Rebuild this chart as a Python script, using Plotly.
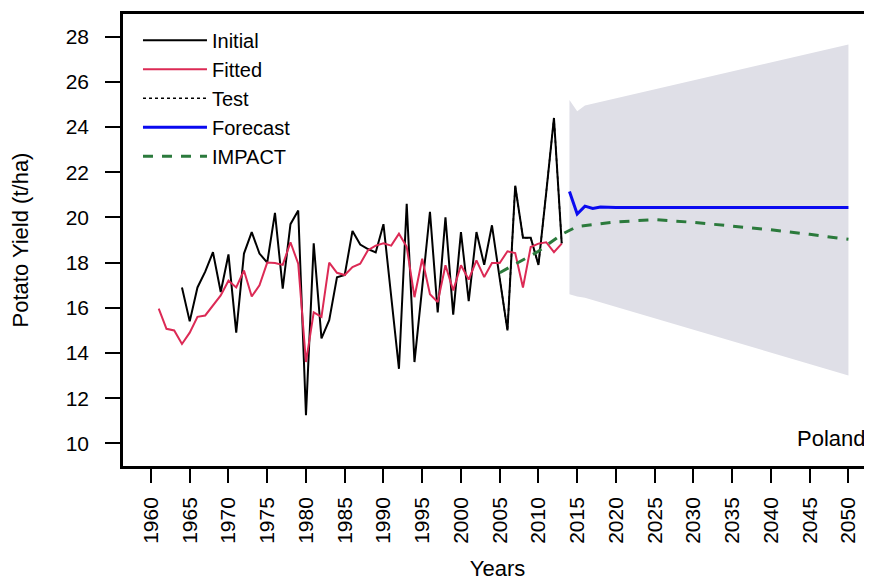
import plotly.graph_objects as go

# ---------------- data ----------------
initial_years = list(range(1964, 2014))
initial_vals = [16.9, 15.4, 16.9, 17.6, 18.46, 16.7, 18.36, 14.9, 18.4, 19.35,
                18.4, 18.0, 20.2, 16.85, 19.7, 20.3, 11.25, 18.85, 14.65, 15.45,
                17.35, 17.45, 19.4, 18.8, 18.6, 18.45, 19.7, 16.5, 13.3, 20.6,
                13.6, 16.9, 20.25, 15.8, 20.0, 15.7, 19.35, 16.3, 19.35, 17.9,
                19.65, 17.3, 15.0, 21.4, 19.1, 19.1, 17.9, 21.1, 24.4, 18.85]

fitted_years = list(range(1961, 2014))
fitted_vals = [15.96, 15.07, 15.0, 14.4, 14.9, 15.6, 15.66, 16.1, 16.55, 17.2,
               16.9, 17.65, 16.5, 17.0, 18.0, 17.98, 17.9, 18.9, 17.95, 13.6,
               15.8, 15.6, 18.0, 17.55, 17.45, 17.8, 17.95, 18.55, 18.75, 18.85,
               18.75, 19.28, 18.7, 16.47, 18.17, 16.6, 16.25, 17.88, 16.77, 17.88,
               17.25, 18.1, 17.36, 17.98, 17.98, 18.5, 18.42, 16.9, 18.69, 18.84,
               18.9, 18.46, 18.84]

test_years = list(range(2005, 2014))
test_vals = [17.3, 15.0, 21.4, 19.1, 19.1, 17.9, 21.1, 24.4, 18.85]

forecast_years = list(range(2014, 2051))
forecast_vals = [21.15, 20.15, 20.5, 20.4, 20.46, 20.44, 20.44, 20.44, 20.44, 20.44,
                 20.44, 20.44, 20.44, 20.44, 20.44, 20.44, 20.44, 20.44, 20.44, 20.44,
                 20.44, 20.44, 20.44, 20.44, 20.44, 20.44, 20.44, 20.44, 20.44, 20.44,
                 20.44, 20.44, 20.44, 20.44, 20.44, 20.44, 20.44]

band_years = [2014, 2015, 2016, 2050]
band_upper = [25.2, 24.7, 24.95, 27.65]
band_lower = [16.6, 16.5, 16.45, 13.0]

impact_years = [2005, 2010, 2013, 2015, 2020, 2025, 2030, 2035, 2040, 2045, 2050]
impact_vals = [17.55, 18.5, 19.25, 19.6, 19.8, 19.9, 19.78, 19.62, 19.45, 19.25, 19.03]

x_ticks = list(range(1960, 2051, 5))
y_ticks = list(range(10, 29, 2))

FONT = "Liberation Sans, Arial, sans-serif"

fig = go.Figure()

# confidence band
fig.add_trace(go.Scatter(
    x=band_years + band_years[::-1],
    y=band_upper + band_lower[::-1],
    fill="toself", fillcolor="rgb(223,223,231)",
    line=dict(width=0), mode="lines", showlegend=False, hoverinfo="skip"))

fig.add_trace(go.Scatter(x=test_years, y=test_vals, mode="lines", name="Test",
                         line=dict(color="black", width=1.5, dash="3px,3px"),
                         legendrank=3))
fig.add_trace(go.Scatter(x=initial_years, y=initial_vals, mode="lines", name="Initial",
                         line=dict(color="black", width=2), legendrank=1))
fig.add_trace(go.Scatter(x=fitted_years, y=fitted_vals, mode="lines", name="Fitted",
                         line=dict(color="#dc2a55", width=2), legendrank=2))
fig.add_trace(go.Scatter(x=forecast_years, y=forecast_vals, mode="lines", name="Forecast",
                         line=dict(color="#0a0af0", width=3), legendrank=4))
fig.add_trace(go.Scatter(x=impact_years, y=impact_vals, mode="lines", name="IMPACT",
                         line=dict(color="#2b7a3c", width=3, dash="10px,9px"),
                         legendrank=5))

# page body has an 8px margin, so the figure is offset by 8px
fig.update_layout(
    width=864, height=574,
    margin=dict(l=115, r=0, t=6, b=116),
    plot_bgcolor="white", paper_bgcolor="white",
    font=dict(family=FONT, size=21, color="black"),
    showlegend=True,
    legend=dict(x=0.02, y=0.985, xanchor="left", yanchor="top",
                bgcolor="rgba(0,0,0,0)", font=dict(size=20, family=FONT),
                tracegroupgap=0, itemwidth=64),
)

fig.update_xaxes(
    range=[1956.39, 2053.04], tickvals=x_ticks, ticktext=[str(v) for v in x_ticks],
    tickangle=-90, ticks="outside", ticklen=14, tickwidth=2, tickcolor="black",
    ticklabelstandoff=6,
    showline=True, linecolor="black", linewidth=2.5, mirror=True,
    showgrid=False, zeroline=False,
    title=dict(text="Years", font=dict(size=22), standoff=18),
    tickfont=dict(size=21),
)
fig.update_yaxes(
    range=[9, 29], tickvals=y_ticks, ticks="outside", ticklen=15, tickwidth=2,
    tickcolor="black", ticklabelstandoff=12,
    showline=True, linecolor="black", linewidth=2.5,
    showgrid=False, zeroline=False,
    title=dict(text="Potato Yield (t/ha)", font=dict(size=22), standoff=31),
    tickfont=dict(size=21),
)

fig.add_annotation(text="Poland", x=1, y=0.06, xref="paper", yref="paper",
                   xanchor="right", yanchor="middle", showarrow=False,
                   xshift=-4, font=dict(size=22, family=FONT))

fig.write_html("out.html")
